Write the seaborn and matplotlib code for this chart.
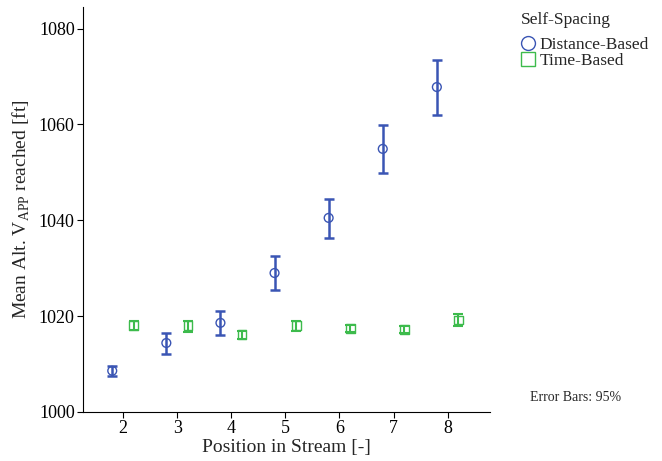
import numpy as np
import pandas as pd
import matplotlib
matplotlib.use("Agg")
import matplotlib.pyplot as plt
import seaborn as sns
from matplotlib.lines import Line2D

positions = [2, 3, 4, 5, 6, 7, 8]
dist_mean = [1008.6, 1014.4, 1018.6, 1029.0, 1040.5, 1054.9, 1067.8]
dist_lo = [1007.5, 1012.1, 1016.1, 1025.5, 1036.3, 1049.9, 1062.0]
dist_hi = [1009.6, 1016.5, 1021.1, 1032.6, 1044.5, 1059.9, 1073.5]
time_mean = [1018.0, 1018.0, 1016.1, 1018.0, 1017.4, 1017.2, 1019.2]
time_lo = [1017.1, 1016.7, 1015.2, 1016.8, 1016.6, 1016.4, 1018.0]
time_hi = [1019.0, 1019.0, 1016.9, 1019.0, 1018.2, 1018.0, 1020.5]

series_names = ["Distance-Based", "Time-Based"]
legend_title = "Self-Spacing"
blue = "#3a55b4"
green = "#3dbb4c"

sns.set_style("white")
plt.rcParams["font.family"] = ["Liberation Serif", "DejaVu Serif"]
plt.rcParams["mathtext.fontset"] = "custom"
plt.rcParams["mathtext.rm"] = "Liberation Serif"

rows = []
for p, m, lo, hi in zip(positions, dist_mean, dist_lo, dist_hi):
    rows.append(dict(pos=p - 0.2, mean=m, lo=lo, hi=hi, series=series_names[0]))
for p, m, lo, hi in zip(positions, time_mean, time_lo, time_hi):
    rows.append(dict(pos=p + 0.2, mean=m, lo=lo, hi=hi, series=series_names[1]))
df = pd.DataFrame(rows)

fig = plt.figure(figsize=(6.62, 4.61), dpi=100)
ax = fig.add_axes([0.1254, 0.1063, 0.6146, 0.8785])

for name, col, lw in [(series_names[0], blue, 1.8), (series_names[1], green, 1.5)]:
    d = df[df.series == name]
    ax.errorbar(d["pos"], d["mean"], yerr=[d["mean"] - d["lo"], d["hi"] - d["mean"]],
                fmt="none", ecolor=col, elinewidth=lw, capsize=3.5, capthick=lw, zorder=2)

sns.scatterplot(data=df, x="pos", y="mean", hue="series", style="series",
                palette={series_names[0]: blue, series_names[1]: green},
                markers={series_names[0]: "o", series_names[1]: "s"},
                s=40, linewidth=1.0, ax=ax, legend=False, zorder=3)
sc = ax.collections[-1]
ec = sc.get_facecolors()
sc.set_edgecolors(ec)
sc.set_facecolors("none")

ax.set_xlim(1.26, 8.78)
ax.set_ylim(1000, 1084.5)
ax.set_xticks(positions)
ax.set_yticks([1000, 1020, 1040, 1060, 1080])
ax.tick_params(axis="both", labelsize=13, direction="out", length=4, width=0.8,
               left=True, bottom=True, colors="black", pad=2)
for s in ["top", "right"]:
    ax.spines[s].set_visible(False)
for s in ["left", "bottom"]:
    ax.spines[s].set_color("black")
    ax.spines[s].set_linewidth(0.8)

ax.set_xlabel("Position in Stream [-]", fontsize=14, labelpad=1)
ax.set_ylabel(r"Mean Alt. V$_{\mathregular{APP}}$ reached [ft]", fontsize=14, labelpad=5)

handles = [
    Line2D([], [], marker="o", linestyle="none", markerfacecolor="none",
           markeredgecolor=blue, markersize=10, markeredgewidth=1.0),
    Line2D([], [], marker="s", linestyle="none", markerfacecolor="none",
           markeredgecolor=green, markersize=10, markeredgewidth=1.0),
]
fig.text(0.787, 0.957, legend_title, fontsize=12.5, ha="left", va="center")
leg = fig.legend(handles, series_names, loc="upper left",
                 bbox_to_anchor=(0.768, 0.946), frameon=False, fontsize=12.5,
                 handlelength=0.8, handletextpad=0.3,
                 labelspacing=0.0, borderpad=0.2)

fig.text(0.800, 0.123, "Error Bars: 95%", fontsize=10, ha="left", va="bottom")

fig.savefig("out.png", dpi=100)
